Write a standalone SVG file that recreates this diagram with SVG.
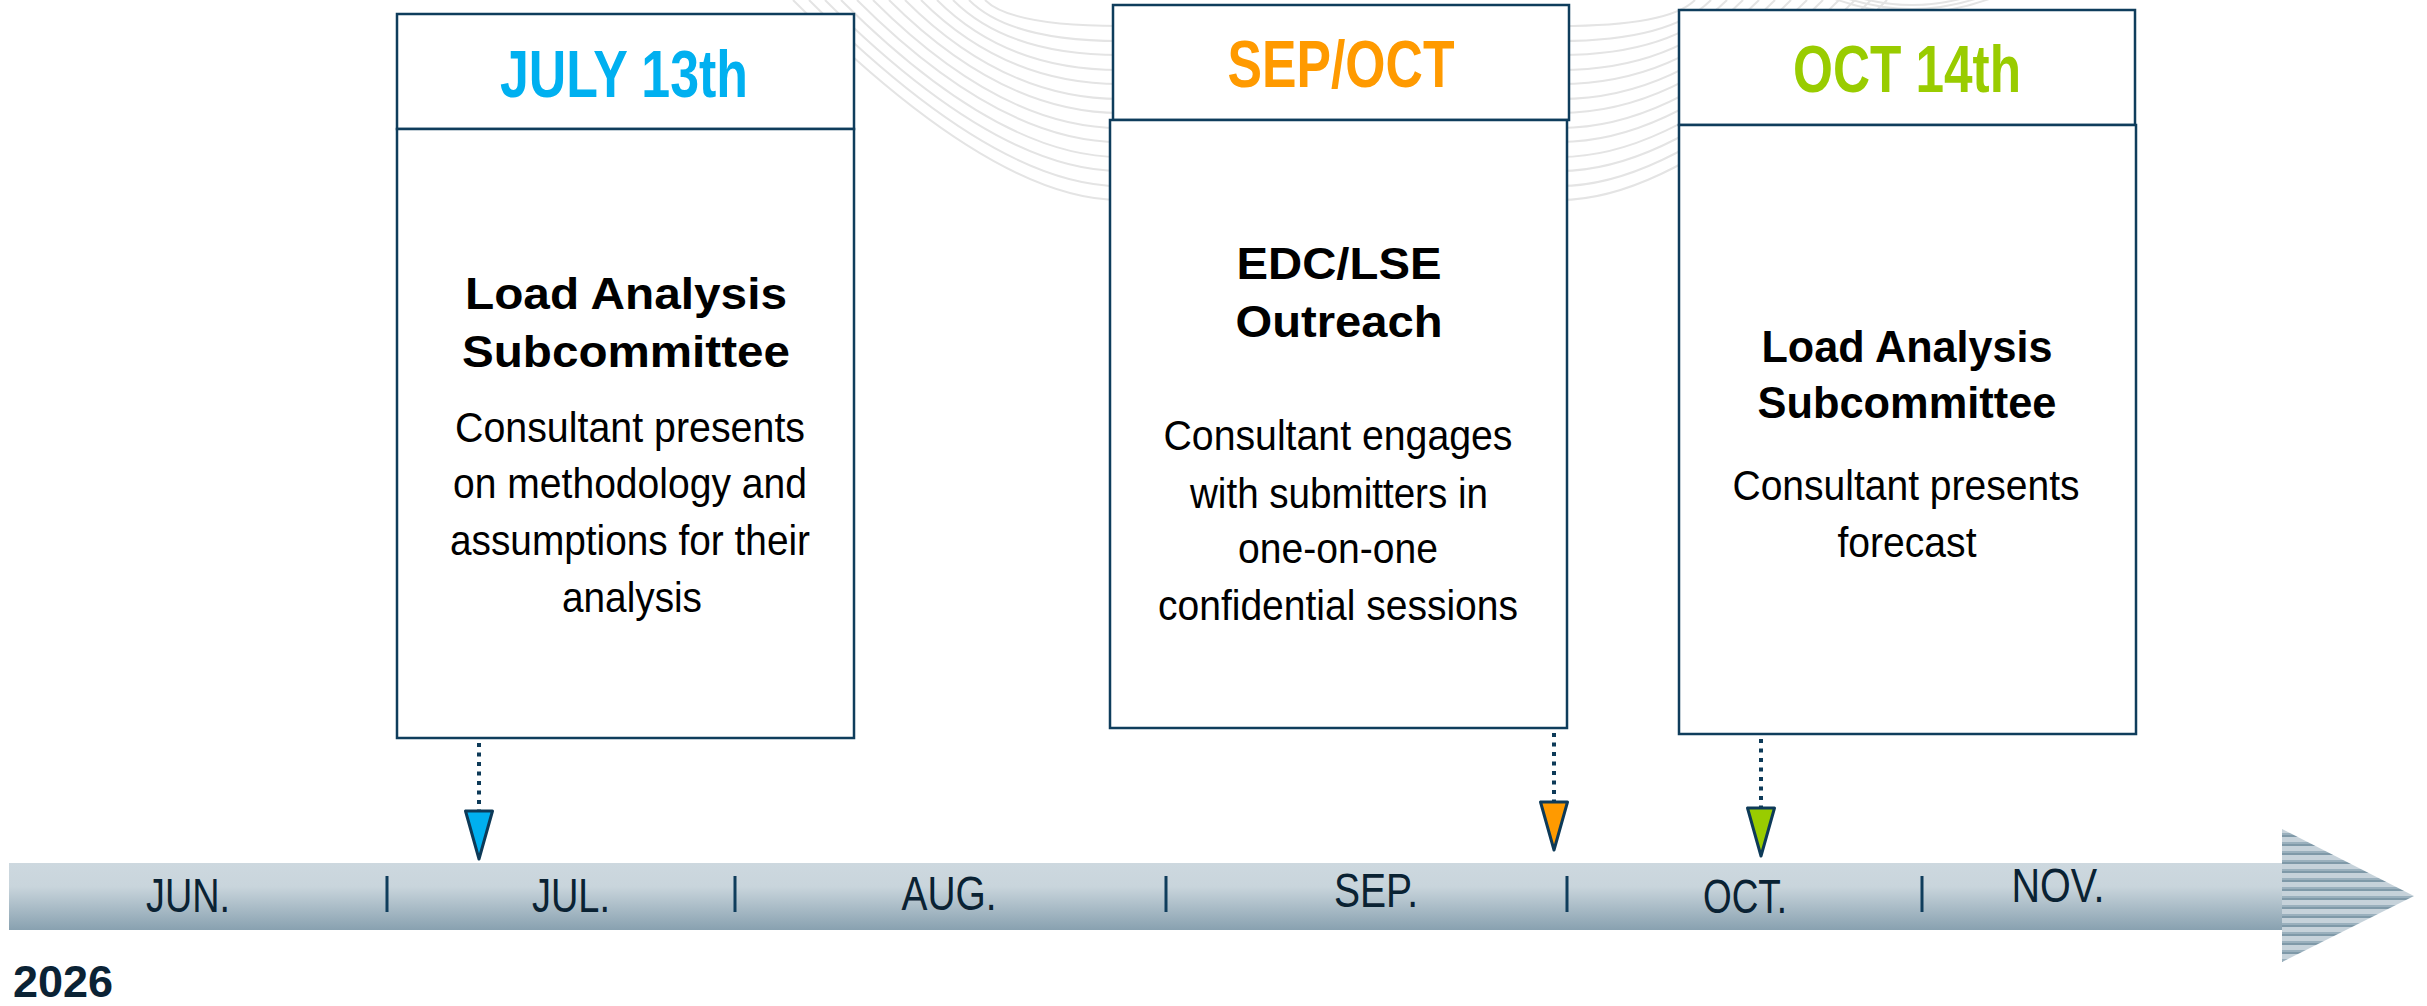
<svg xmlns="http://www.w3.org/2000/svg" width="2427" height="1006" viewBox="0 0 2427 1006">
<style>
.box{fill:#fff;stroke:#0f3d5c;stroke-width:2.5}
.hdr{font-family:"Liberation Sans",Arial,sans-serif;font-weight:bold;font-size:67px;text-anchor:middle}
.ttl{font-family:"Liberation Sans",Arial,sans-serif;font-weight:bold;font-size:45px;text-anchor:middle;fill:#000}
.bdy{font-family:"Liberation Sans",Arial,sans-serif;font-size:42px;text-anchor:middle;fill:#000}
.mon{font-family:"Liberation Sans",Arial,sans-serif;font-size:49px;text-anchor:middle;fill:#0a2233}
.tick{stroke:#0f3d5c;stroke-width:3}
.dot{stroke:#0d3a58;stroke-width:4;stroke-dasharray:4 5.5;fill:none}
.tri{stroke:#0d3a58;stroke-width:3;stroke-linejoin:round}
.deco{fill:none;stroke:#e4e4e4;stroke-width:2}
</style>
<defs>
<linearGradient id="barg" x1="0" y1="0" x2="0" y2="1">
<stop offset="0" stop-color="#cdd8df"/>
<stop offset="0.35" stop-color="#c9d5dc"/>
<stop offset="1" stop-color="#88a1b0"/>
</linearGradient>
<pattern id="stripes" patternUnits="userSpaceOnUse" x="0" y="829" width="20" height="9">
<rect width="20" height="9" fill="#c6d2da"/>
<rect y="4" width="20" height="2" fill="#9ab0bd"/>
<rect y="6" width="20" height="2" fill="#7f99a8"/>
</pattern>
</defs>
<rect width="2427" height="1006" fill="#fff"/>
<g id="decoration">
<path class="deco" d="M793 0 Q993 200 1120 200"/>
<path class="deco" d="M809 0 Q995 186 1120 186"/>
<path class="deco" d="M825 0 Q996 171 1120 171"/>
<path class="deco" d="M841 0 Q998 157 1120 157"/>
<path class="deco" d="M857 0 Q999 142 1120 142"/>
<path class="deco" d="M873 0 Q1001 128 1120 128"/>
<path class="deco" d="M889 0 Q1002 113 1120 113"/>
<path class="deco" d="M905 0 Q1004 99 1120 99"/>
<path class="deco" d="M921 0 Q1005 84 1120 84"/>
<path class="deco" d="M937 0 Q1007 70 1120 70"/>
<path class="deco" d="M953 0 Q1008 55 1120 55"/>
<path class="deco" d="M969 0 Q1010 41 1120 41"/>
<path class="deco" d="M985 0 Q1011 26 1120 26"/>
<path class="deco" d="M1560 200 Q1687 200 1887 0"/>
<path class="deco" d="M1560 186 Q1685 186 1871 0"/>
<path class="deco" d="M1560 171 Q1684 171 1855 0"/>
<path class="deco" d="M1560 157 Q1682 157 1839 0"/>
<path class="deco" d="M1560 142 Q1681 142 1823 0"/>
<path class="deco" d="M1560 128 Q1679 128 1807 0"/>
<path class="deco" d="M1560 113 Q1678 113 1791 0"/>
<path class="deco" d="M1560 99 Q1676 99 1775 0"/>
<path class="deco" d="M1560 84 Q1675 84 1759 0"/>
<path class="deco" d="M1560 70 Q1673 70 1743 0"/>
<path class="deco" d="M1560 55 Q1672 55 1727 0"/>
<path class="deco" d="M1560 41 Q1670 41 1711 0"/>
<path class="deco" d="M1560 26 Q1669 26 1695 0"/>
<path class="deco" d="M1827 -4 Q1912 30 1997 -4"/>
<path class="deco" d="M1840 -4 Q1912 22 1984 -4"/>
<path class="deco" d="M1853 -4 Q1912 14 1971 -4"/>
</g>
<g id="timeline">
<rect x="9" y="863" width="2274" height="67" fill="url(#barg)"/>
<polygon points="2282,829 2414,896 2282,962" fill="url(#stripes)"/>
<line class="tick" x1="387" y1="876" x2="387" y2="912"/>
<line class="tick" x1="735" y1="876" x2="735" y2="912"/>
<line class="tick" x1="1166" y1="876" x2="1166" y2="912"/>
<line class="tick" x1="1567" y1="876" x2="1567" y2="912"/>
<line class="tick" x1="1922" y1="876" x2="1922" y2="912"/>
<text class="mon" x="188" y="912" textLength="84" lengthAdjust="spacingAndGlyphs">JUN.</text>
<text class="mon" x="571" y="912" textLength="78" lengthAdjust="spacingAndGlyphs">JUL.</text>
<text class="mon" x="949" y="910" textLength="95" lengthAdjust="spacingAndGlyphs">AUG.</text>
<text class="mon" x="1376" y="907" textLength="84" lengthAdjust="spacingAndGlyphs">SEP.</text>
<text class="mon" x="1745" y="913" textLength="84" lengthAdjust="spacingAndGlyphs">OCT.</text>
<text class="mon" x="2058" y="902" textLength="93" lengthAdjust="spacingAndGlyphs">NOV.</text>
</g>
<text id="year" x="13" y="997" font-family="Liberation Sans, Arial, sans-serif" font-weight="bold" font-size="45" fill="#0b2335">2026</text>
<g id="node-july">
<rect class="box" x="397" y="14" width="457" height="115"/>
<rect class="box" x="397" y="129" width="457" height="609"/>
<text class="hdr" x="624" y="97" fill="#00b0f0" textLength="248" lengthAdjust="spacingAndGlyphs">JULY 13th</text>
<text class="ttl" x="626" y="309" textLength="322" lengthAdjust="spacingAndGlyphs">Load Analysis</text>
<text class="ttl" x="626" y="367" textLength="328" lengthAdjust="spacingAndGlyphs">Subcommittee</text>
<text class="bdy" x="630" y="442" textLength="350" lengthAdjust="spacingAndGlyphs">Consultant presents</text>
<text class="bdy" x="630" y="498" textLength="354" lengthAdjust="spacingAndGlyphs">on methodology and</text>
<text class="bdy" x="630" y="555" textLength="360" lengthAdjust="spacingAndGlyphs">assumptions for their</text>
<text class="bdy" x="632" y="612" textLength="140" lengthAdjust="spacingAndGlyphs">analysis</text>
</g>
<g id="node-sepoct">
<rect class="box" x="1113" y="5" width="456" height="115"/>
<rect class="box" x="1110" y="120" width="457" height="608"/>
<text class="hdr" x="1341" y="87" fill="#ff9a00" textLength="227" lengthAdjust="spacingAndGlyphs">SEP/OCT</text>
<text class="ttl" x="1339" y="279" textLength="205" lengthAdjust="spacingAndGlyphs">EDC/LSE</text>
<text class="ttl" x="1339" y="337" textLength="207" lengthAdjust="spacingAndGlyphs">Outreach</text>
<text class="bdy" x="1338" y="450" textLength="349" lengthAdjust="spacingAndGlyphs">Consultant engages</text>
<text class="bdy" x="1339" y="508" textLength="298" lengthAdjust="spacingAndGlyphs">with submitters in</text>
<text class="bdy" x="1338" y="563" textLength="200" lengthAdjust="spacingAndGlyphs">one-on-one</text>
<text class="bdy" x="1338" y="620" textLength="360" lengthAdjust="spacingAndGlyphs">confidential sessions</text>
</g>
<g id="node-oct14">
<rect class="box" x="1679" y="10" width="456" height="115"/>
<rect class="box" x="1679" y="125" width="457" height="609"/>
<text class="hdr" x="1907" y="92" fill="#99cc00" textLength="228" lengthAdjust="spacingAndGlyphs">OCT 14th</text>
<text class="ttl" x="1907" y="362" textLength="291" lengthAdjust="spacingAndGlyphs">Load Analysis</text>
<text class="ttl" x="1907" y="418" textLength="299" lengthAdjust="spacingAndGlyphs">Subcommittee</text>
<text class="bdy" x="1906" y="500" textLength="347" lengthAdjust="spacingAndGlyphs">Consultant presents</text>
<text class="bdy" x="1907" y="557" textLength="139" lengthAdjust="spacingAndGlyphs">forecast</text>
</g>
<g id="connectors">
<line class="dot" x1="479" y1="743" x2="479" y2="811"/>
<polygon class="tri" points="465.5,811 492.5,811 479,859" fill="#00b0f0"/>
<line class="dot" x1="1554" y1="733" x2="1554" y2="802"/>
<polygon class="tri" points="1540.5,802 1567.5,802 1554,850" fill="#ff9a00"/>
<line class="dot" x1="1761" y1="739" x2="1761" y2="808"/>
<polygon class="tri" points="1747.5,808 1774.5,808 1761,856" fill="#99cc00"/>
</g>
</svg>
